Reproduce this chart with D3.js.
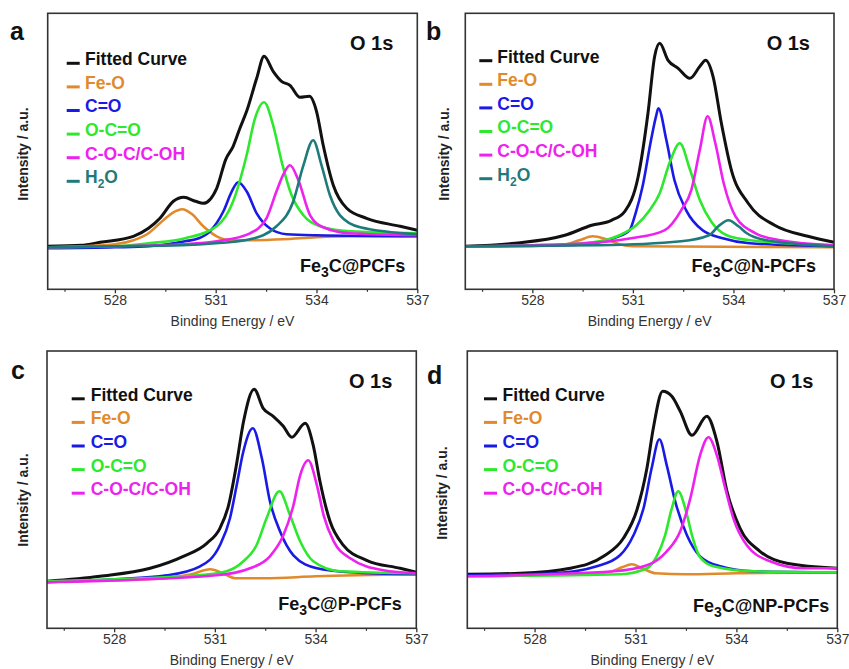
<!DOCTYPE html>
<html>
<head>
<meta charset="utf-8">
<script src="https://cdn.jsdelivr.net/npm/d3@7/dist/d3.min.js"></script>
<style>
  body { margin: 0; background: #fff; }
  svg { display: block; font-family: "Liberation Sans", Arial, sans-serif; }
</style>
</head>
<body>
<div id="chart"></div>
<script>
// O 1s XPS spectra, [binding energy (eV), intensity (a.u.)]
let aFitted = [[526,4.3],[527,4.4],[527.56,4.7],[528.55,5.3],[529,6.1],[529.34,7.1],[529.74,8.8],[530.05,9.2],[530.4,8.8],[530.63,8.6],[531.03,10.1],[531.3,13.0],[531.52,14.3],[531.72,16.1],[531.92,17.8],[532.22,21.1],[532.44,23.3],[532.71,21.8],[532.96,20.8],[533.21,20.4],[533.51,19.2],[533.79,19.3],[534.0,17.8],[534.2,14.4],[534.5,10.4],[534.9,8.1],[535.49,7.1],[536.49,6.3],[537,5.9]];
let aFeO = [[526,4.2],[527,4.3],[528,4.5],[528.55,4.9],[529,5.6],[529.34,6.6],[529.7,7.6],[530.0,8.0],[530.3,7.5],[530.63,6.3],[531.03,5.3],[531.5,4.9],[532,4.9],[533,5.0],[534,5.2],[535,5.3],[537,5.3]];
let aCO = [[526,4.1],[528,4.2],[529,4.3],[530.09,4.8],[530.5,5.1],[530.83,5.8],[531.23,7.8],[531.48,9.8],[531.67,10.7],[531.92,9.8],[532.22,7.6],[532.61,6.1],[533.11,5.5],[534,5.4],[537,5.3]];
let aOCO = [[526,4.2],[528,4.3],[529,4.6],[530.09,5.1],[531.03,6.3],[531.52,8.8],[531.92,13.4],[532.17,17.1],[532.44,18.7],[532.71,16.4],[532.96,12.8],[533.26,9.4],[533.61,7.4],[534.1,6.3],[534.99,5.8],[537,5.6]];
let aCOC = [[526,4.2],[528,4.3],[530,4.5],[531.03,4.8],[532.02,5.6],[532.51,7.1],[532.81,9.8],[533.0,11.4],[533.21,12.4],[533.45,11.0],[533.81,7.4],[534.2,6.2],[534.99,5.6],[537,5.4]];
let aH2O = [[526,4.2],[528,4.3],[530,4.4],[531,4.6],[532.02,5.0],[532.81,6.3],[533.31,8.8],[533.61,12.4],[533.9,14.9],[534.15,12.4],[534.4,9.4],[534.7,7.4],[535.3,6.2],[537,5.5]];

let bFitted = [[526,4.3],[527.48,4.6],[528.97,5.4],[529.77,6.4],[530.36,6.9],[530.76,7.8],[531.16,11.3],[531.45,17.6],[531.65,23.3],[531.8,24.6],[532.05,22.9],[532.35,22.1],[532.7,21.1],[533.0,22.3],[533.17,22.9],[533.39,21.3],[533.64,16.6],[533.94,11.9],[534.44,8.6],[535.23,6.4],[536.22,5.3],[537,4.7]];
let bFeO = [[526,4.3],[528,4.3],[529,4.5],[529.4,4.9],[529.8,5.3],[530.2,5.0],[530.6,4.5],[531,4.3],[537,4.2]];
let bCO = [[526,4.3],[529,4.4],[530,4.7],[530.5,5.2],[530.9,5.9],[531.08,7.6],[531.29,10.3],[531.54,14.9],[531.69,17.3],[531.76,18.1],[532.0,14.9],[532.24,10.9],[532.59,7.9],[533.08,5.9],[533.68,5.1],[534.48,4.6],[537,4.3]];
let bOCO = [[526,4.3],[529,4.5],[530,4.8],[530.6,5.4],[531.1,6.4],[531.5,7.9],[531.8,9.6],[532.1,12.7],[532.4,14.6],[532.7,12.0],[533.0,8.9],[533.35,6.7],[533.8,5.4],[534.5,4.9],[537,4.4]];
let bCOC = [[526,4.3],[529,4.5],[530.95,5.1],[531.94,5.9],[532.44,7.9],[532.75,10.0],[533.0,14.0],[533.23,17.3],[533.46,14.6],[533.71,10.6],[534.06,7.3],[534.66,5.6],[535.4,4.9],[537,4.4]];
let bH2O = [[526,4.3],[530,4.4],[532.44,4.8],[533.27,5.4],[533.55,6.3],[533.85,6.9],[534.15,6.3],[534.4,5.6],[534.99,4.9],[537,4.3]];

let cFitted = [[526,4.7],[527.58,5.2],[529.07,6.0],[530.06,7.2],[530.76,8.5],[531.15,10.0],[531.4,12.2],[531.65,16.5],[531.85,20.6],[532.17,23.9],[532.44,22.0],[532.74,21.2],[533.04,20.2],[533.29,19.1],[533.69,20.5],[533.93,18.3],[534.13,14.7],[534.43,10.7],[534.83,8.3],[535.52,6.8],[536.52,6.0],[537,5.6]];
let cFeO = [[526,4.7],[528,4.8],[529.5,5.0],[530.3,5.4],[530.86,5.9],[531.3,5.4],[531.6,5.0],[532.5,5.0],[534,5.2],[537,5.4]];
let cCO = [[526,4.6],[528,4.9],[529.57,5.3],[530.56,6.2],[531.15,8.3],[531.45,11.0],[531.65,14.3],[531.85,17.7],[532.13,20.0],[532.4,17.0],[532.64,12.7],[532.94,9.7],[533.34,7.3],[534.04,6.0],[535.03,5.6],[537,5.4]];
let cOCO = [[526,4.7],[529.5,5.1],[530.5,5.3],[531.35,5.7],[531.85,6.7],[532.24,8.3],[532.54,11.0],[532.92,13.7],[533.24,11.3],[533.54,8.7],[533.93,6.7],[534.73,5.7],[537,5.5]];
let cCOC = [[526,4.6],[531.05,5.3],[532.05,6.0],[532.64,7.2],[533.04,9.3],[533.34,12.3],[533.54,15.3],[533.78,16.8],[534.04,14.3],[534.24,11.3],[534.54,8.7],[535.03,7.0],[536.02,5.8],[537,5.5]];

let dFitted = [[526,5.4],[527.57,5.5],[529.06,6.0],[530.05,7.2],[530.64,9.0],[531.04,11.8],[531.34,16.0],[531.53,20.0],[531.81,23.7],[532.08,23.2],[532.33,21.7],[532.68,19.3],[533.12,21.2],[533.42,18.7],[533.72,13.7],[534.11,10.0],[534.7,7.7],[535.5,6.5],[537,6.0]];
let dFeO = [[526,5.3],[529,5.4],[530.2,5.6],[530.6,6.1],[530.89,6.4],[531.2,6.0],[531.6,5.5],[532.5,5.4],[534,5.5],[537,5.6]];
let dCO = [[526,5.3],[528.56,5.5],[529.85,6.2],[530.54,7.3],[530.94,9.3],[531.24,12.0],[531.48,16.0],[531.71,18.9],[531.93,16.3],[532.18,12.7],[532.53,9.3],[532.92,7.2],[533.52,6.2],[534.51,5.7],[537,5.6]];
let dOCO = [[526,5.2],[530.54,5.4],[531.34,6.0],[531.63,7.2],[531.88,9.3],[532.08,12.0],[532.27,13.7],[532.48,12.0],[532.68,9.3],[532.92,7.1],[533.32,6.2],[534.5,5.7],[537,5.6]];
let dCOC = [[526,5.2],[530.35,5.7],[531.34,6.3],[531.93,7.7],[532.33,9.7],[532.63,13.0],[532.92,17.3],[533.17,19.1],[533.42,17.3],[533.67,14.0],[533.91,11.0],[534.31,8.3],[535.0,6.7],[536.0,6.0],[537,6.0]];

let legendNames = ["Fitted Curve", "Fe-O", "C=O", "O-C=O", "C-O-C/C-OH", "H2O"];
let colors = ["#111111", "#e08a2c", "#1a1ae6", "#2ee82e", "#ee22ee", "#1f7b7b"];
let majorTicks = [528, 531, 534, 537];
let minorTicks = [526.5, 529.5, 532.5, 535.5];
let panelLetters = ["a", "b", "c", "d"];
let sampleNames = ["PCFs", "N-PCFs", "P-PCFs", "NP-PCFs"];

let w = 849;
let h = 669;

// frame boxes + text offsets for each panel
let panels = [
  {x: 47.7, y: 13.3, w: 369.6, h: 276, series: [aFitted, aFeO, aCO, aOCO, aCOC, aH2O],
   legLine: 19, legText: 37.3, legTop: 52, sampleRight: 12, sampleBase: 258.6, letter: [10, 40], ylab: [23.3, 154]},
  {x: 465.3, y: 13.3, w: 368.7, h: 276, series: [bFitted, bFeO, bCO, bOCO, bCOC, bH2O],
   legLine: 14, legText: 32, legTop: 49.4, sampleRight: 18, sampleBase: 258.6, letter: [426, 40], ylab: [444, 154]},
  {x: 47, y: 351, w: 369.3, h: 277.3, series: [cFitted, cFeO, cCO, cOCO, cCOC],
   legLine: 24.7, legText: 43.7, legTop: 49.8, sampleRight: 14.6, sampleBase: 259, letter: [11, 379], ylab: [23.3, 500]},
  {x: 467.3, y: 351, w: 370, h: 277.3, series: [dFitted, dFeO, dCO, dOCO, dCOC],
   legLine: 16.7, legText: 35.3, legTop: 49.8, sampleRight: 8, sampleBase: 260.7, letter: [427, 384], ylab: [442.3, 493]}
];

let svg = d3.select("#chart").append("svg")
  .attr("width", w)
  .attr("height", h)
  .style("background", "#fff");

panels.forEach((p, i) => {
  let x = d3.scaleLinear().domain([526, 537]).range([0, p.w]);
  let y = d3.scaleLinear().domain([0, p.h / 10]).range([p.h, 0]);

  let g = svg.append("g").attr("transform", `translate(${p.x},${p.y})`);

  let line = d3.line()
    .x(d => x(d[0]))
    .y(d => y(d[1]))
    .curve(d3.curveMonotoneX);

  // curves, fitted first then components on top
  p.series.forEach((s, k) => {
    g.append("path")
      .datum(s)
      .attr("d", line)
      .attr("fill", "none")
      .attr("stroke", colors[k])
      .attr("stroke-width", k == 0 ? 3 : 2.6)
      .attr("stroke-linejoin", "round");
  });

  // frame
  g.append("rect")
    .attr("width", p.w)
    .attr("height", p.h)
    .attr("fill", "none")
    .attr("stroke", "#333")
    .attr("stroke-width", 1.6);

  // x axis
  let ax = g.append("g")
    .attr("transform", `translate(0,${p.h})`)
    .call(d3.axisBottom(x).tickValues(majorTicks).tickSize(4).tickPadding(2).tickSizeOuter(0).tickFormat(d3.format("d")));
  ax.select(".domain").remove();
  ax.selectAll("line").attr("stroke", "#333").attr("stroke-width", 1.3);
  ax.selectAll("text")
    .attr("font-size", 14)
    .attr("font-family", "Liberation Sans, Arial, sans-serif")
    .attr("fill", "#333");

  let axMinor = g.append("g")
    .attr("transform", `translate(0,${p.h})`)
    .call(d3.axisBottom(x).tickValues(minorTicks).tickSize(2.5).tickSizeOuter(0).tickFormat(""));
  axMinor.select(".domain").remove();
  axMinor.selectAll("line").attr("stroke", "#333").attr("stroke-width", 1.2);

  g.append("text")
    .attr("x", p.w / 2)
    .attr("y", p.h + 37)
    .attr("text-anchor", "middle")
    .attr("font-size", 14)
    .attr("fill", "#333")
    .text("Binding Energy / eV");

  // y label
  svg.append("text")
    .attr("transform", `translate(${p.ylab[0]},${p.ylab[1]}) rotate(-90)`)
    .attr("text-anchor", "middle")
    .attr("dy", "0.35em")
    .attr("font-size", 14)
    .attr("font-weight", "bold")
    .attr("fill", "#222")
    .text("Intensity / a.u.");

  // panel letter
  svg.append("text")
    .attr("x", p.letter[0])
    .attr("y", p.letter[1])
    .attr("font-size", 25)
    .attr("font-weight", "bold")
    .attr("fill", "#111")
    .text(panelLetters[i]);

  // O 1s
  g.append("text")
    .attr("x", p.w - 24)
    .attr("y", 37)
    .attr("text-anchor", "end")
    .attr("font-size", 20)
    .attr("font-weight", "bold")
    .attr("fill", "#111")
    .text("O 1s");

  // sample name with subscript
  let st = g.append("text")
    .attr("x", p.w - p.sampleRight)
    .attr("y", p.sampleBase)
    .attr("text-anchor", "end")
    .attr("font-size", 18)
    .attr("font-weight", "bold")
    .attr("fill", "#111");
  st.append("tspan").text("Fe");
  st.append("tspan").attr("dy", 5).attr("font-size", 14).text("3");
  st.append("tspan").attr("dy", -5).text("C@" + sampleNames[i]);

  // legend
  p.series.forEach((s, k) => {
    let yy = p.legTop + k * 23.6;
    g.append("line")
      .attr("x1", p.legLine)
      .attr("x2", p.legLine + 13)
      .attr("y1", yy - 2)
      .attr("y2", yy - 2)
      .attr("stroke", colors[k])
      .attr("stroke-width", 3);
    let t = g.append("text")
      .attr("x", p.legText)
      .attr("y", yy)
      .attr("font-size", 17.5)
      .attr("font-weight", "bold")
      .attr("fill", colors[k]);
    if (legendNames[k] == "H2O") {
      t.append("tspan").text("H");
      t.append("tspan").attr("dy", 5).attr("font-size", 12).text("2");
      t.append("tspan").attr("dy", -5).text("O");
    } else {
      t.text(legendNames[k]);
    }
  });
});
</script>
</body>
</html>
